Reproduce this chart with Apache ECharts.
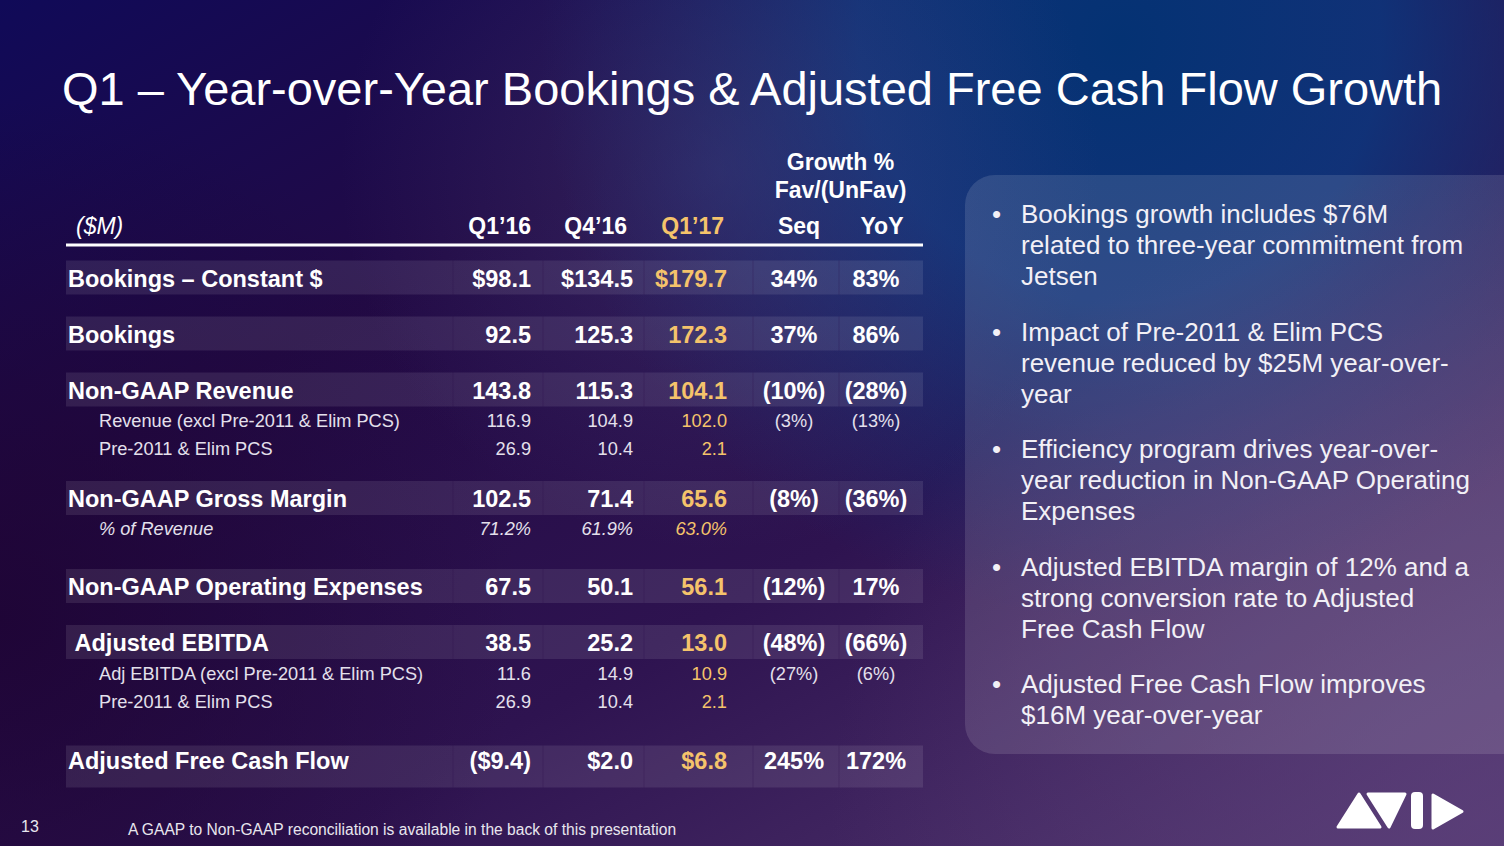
<!DOCTYPE html>
<html>
<head>
<meta charset="utf-8">
<script src="https://cdn.jsdelivr.net/npm/echarts@6/dist/echarts.min.js"></script>
<style>
  html, body { margin: 0; padding: 0; background: #1f0a45; }
  #chart { width: 1504px; height: 846px; }
</style>
</head>
<body>
<div id="chart"></div>
<script>
// ---------------- DATA ----------------
const titleText = 'Q1 – Year-over-Year Bookings & Adjusted Free Cash Flow Growth';
const unitLabel = '($M)';
const columns = ['Q1’16', 'Q4’16', 'Q1’17', 'Seq', 'YoY'];
const growthHeader = ['Growth %', 'Fav/(UnFav)'];
const rowLabels = [
  'Bookings – Constant $',
  'Bookings',
  'Non-GAAP Revenue',
  'Revenue (excl Pre-2011 & Elim PCS)',
  'Pre-2011 & Elim PCS',
  'Non-GAAP Gross Margin',
  '% of Revenue',
  'Non-GAAP Operating Expenses',
  '\u00a0Adjusted EBITDA',
  'Adj EBITDA (excl Pre-2011 & Elim PCS)',
  'Pre-2011 & Elim PCS',
  'Adjusted Free Cash Flow'
];
const rowKinds = ['main', 'main', 'main', 'sub', 'sub', 'main', 'pct', 'main', 'main', 'sub', 'sub', 'total'];
const rowUnits = ['$', '', '', '', '', '', '%', '', '', '', '', '$'];
const q1_16 = [98.1, 92.5, 143.8, 116.9, 26.9, 102.5, 71.2, 67.5, 38.5, 11.6, 26.9, -9.4];
const q4_16 = [134.5, 125.3, 115.3, 104.9, 10.4, 71.4, 61.9, 50.1, 25.2, 14.9, 10.4, 2.0];
const q1_17 = [179.7, 172.3, 104.1, 102.0, 2.1, 65.6, 63.0, 56.1, 13.0, 10.9, 2.1, 6.8];
const growthSeq = [34, 37, -10, -3, null, -8, null, -12, -48, -27, null, 245];
const growthYoY = [83, 86, -28, -13, null, -36, null, 17, -66, -6, null, 172];
const bullets = [
  'Bookings growth includes $76M\nrelated to three-year commitment from\nJetsen',
  'Impact of Pre-2011 & Elim PCS\nrevenue reduced by $25M year-over-\nyear',
  'Efficiency program drives year-over-\nyear reduction in Non-GAAP Operating\nExpenses',
  'Adjusted EBITDA margin of 12% and a\nstrong conversion rate to Adjusted\nFree Cash Flow',
  'Adjusted Free Cash Flow improves\n$16M year-over-year'
];
const pageNumber = '13';
const footnote = 'A GAAP to Non-GAAP reconciliation is available in the back of this presentation';

// ---------------- LAYOUT / STYLE ----------------
const W = 1504, H = 846;
const FONT = '"Liberation Sans", Arial, Helvetica, sans-serif';
const WHITE = '#ffffff';
const SUBTXT = '#e4e0ec';
const GOLD = '#f5c36b';
const L = {
  labelX: 68, subX: 99,
  colRight: [531, 633, 727],
  growthCenter: [794, 876],
  headRight: [531, 627, 724],
  headGrowthCenter: [799, 882],
  headerY: 226,
  growthHeadY: [162, 190],
  ruleY: 245,
  tableLeft: 66, tableRight: 923,
  cellEdges: [66, 453, 543, 644, 753, 839, 923],
  band: { main: { h: 34, off: -1 }, total: { h: 42, off: 6 } }
};
const GAP = {
  'header>main': 52.5, 'main>main': 56, 'main>sub': 30.5, 'main>pct': 30,
  'sub>sub': 28, 'sub>main': 50, 'pct>main': 58, 'sub>total': 59
};
const rowY = (function () {
  let y = L.headerY, prev = 'header';
  return rowKinds.map(function (k) { y += GAP[prev + '>' + k]; prev = k; return y; });
})();

function fmtAmount(v, unit) {
  let s = Math.abs(v).toFixed(1);
  if (unit === '$') s = '$' + s;
  if (unit === '%') s = s + '%';
  return v < 0 ? '(' + s + ')' : s;
}
function fmtPct(v) {
  if (v === null || v === undefined) return '';
  return v < 0 ? '(' + (-v) + '%)' : v + '%';
}
function txt(x, y, text, opt) {
  return {
    type: 'text', x: x, y: y, silent: true,
    style: {
      text: text,
      fill: opt.fill || WHITE,
      font: opt.font,
      align: opt.align || 'left', textAlign: opt.align || 'left',
      verticalAlign: 'middle', textVerticalAlign: 'middle'
    }
  };
}

const chart = echarts.init(document.getElementById('chart'), null, { renderer: 'svg', width: W, height: H });

const rowIndexData = rowLabels.map(function (_, i) { return [i]; });

const bandSeries = {
  type: 'custom', coordinateSystem: 'cartesian2d', z: 1, silent: true,
  data: rowIndexData,
  encode: { x: 0, y: 0 },
  renderItem: function (params, api) {
    const i = api.value(0);
    const b = L.band[rowKinds[i]];
    if (!b) return null;
    const top = rowY[i] + b.off - b.h / 2, bot = rowY[i] + b.off + b.h / 2;
    const children = [];
    const p0 = api.coord([L.tableLeft, top]);
    const p1 = api.coord([L.tableRight, bot]);
    children.push({ type: 'rect', shape: { x: p0[0], y: p0[1], width: p1[0] - p0[0], height: p1[1] - p0[1] },
      style: { fill: 'rgba(255,255,255,0.095)' } });
    for (let c = 1; c < L.cellEdges.length - 1; c++) {
      const a = api.coord([L.cellEdges[c], top]);
      const z = api.coord([L.cellEdges[c], bot]);
      children.push({ type: 'line', shape: { x1: a[0], y1: a[1], x2: z[0], y2: z[1] },
        style: { stroke: 'rgba(40,10,70,0.25)', lineWidth: 1 } });
    }
    return { type: 'group', children: children };
  }
};

const cellSeries = {
  type: 'custom', coordinateSystem: 'cartesian2d', z: 3, silent: true,
  data: rowIndexData,
  encode: { x: 0, y: 0 },
  renderItem: function (params, api) {
    const i = api.value(0);
    const kind = rowKinds[i];
    const isMain = kind === 'main' || kind === 'total';
    const size = isMain ? 23.5 : 18.2;
    const style = kind === 'pct' ? 'italic ' : '';
    const weight = isMain ? 'bold ' : '';
    const font = style + weight + size + 'px ' + FONT;
    const baseFill = isMain ? WHITE : SUBTXT;
    const y = rowY[i];
    const children = [];
    const lp = api.coord([isMain ? L.labelX : L.subX, y]);
    children.push(txt(lp[0], lp[1], rowLabels[i], { font: font, fill: baseFill }));
    const vals = [q1_16[i], q4_16[i], q1_17[i]];
    vals.forEach(function (v, c) {
      const p = api.coord([L.colRight[c], y]);
      children.push(txt(p[0], p[1], fmtAmount(v, rowUnits[i]), { font: font, fill: c === 2 ? GOLD : baseFill, align: 'right' }));
    });
    [growthSeq[i], growthYoY[i]].forEach(function (v, c) {
      const s = fmtPct(v);
      if (!s) return;
      const p = api.coord([L.growthCenter[c], y]);
      children.push(txt(p[0], p[1], s, { font: (weight + size + 'px ' + FONT), fill: baseFill, align: 'center' }));
    });
    return { type: 'group', children: children };
  }
};

const headerSeries = {
  type: 'custom', coordinateSystem: 'cartesian2d', z: 3, silent: true,
  data: [[0]],
  encode: { x: 0, y: 0 },
  renderItem: function (params, api) {
    const children = [];
    const bold = 'bold 23px ' + FONT;
    let p = api.coord([76, L.headerY]);
    children.push(txt(p[0], p[1], unitLabel, { font: 'italic 23px ' + FONT }));
    for (let c = 0; c < 3; c++) {
      p = api.coord([L.headRight[c], L.headerY]);
      children.push(txt(p[0], p[1], columns[c], { font: bold, fill: c === 2 ? GOLD : WHITE, align: 'right' }));
    }
    for (let c = 0; c < 2; c++) {
      p = api.coord([L.headGrowthCenter[c], L.headerY]);
      children.push(txt(p[0], p[1], columns[3 + c], { font: bold, align: 'center' }));
    }
    const gc = (L.headGrowthCenter[0] + L.headGrowthCenter[1]) / 2;
    growthHeader.forEach(function (t, k) {
      const q = api.coord([gc, L.growthHeadY[k]]);
      children.push(txt(q[0], q[1], t, { font: bold, align: 'center' }));
    });
    const a = api.coord([L.tableLeft, L.ruleY]);
    const b = api.coord([L.tableRight, L.ruleY]);
    children.push({ type: 'line', shape: { x1: a[0], y1: a[1], x2: b[0], y2: b[1] }, style: { stroke: '#ffffff', lineWidth: 3 } });
    return { type: 'group', children: children };
  }
};

// --------- decorative graphics (background, panel, logo, text) ---------
const g = [];
g.push({ type: 'rect', z: -100, silent: true, shape: { x: 0, y: 0, width: W, height: H },
  style: { fill: { type: 'linear', x: 0, y: 0, x2: 1, y2: 1, colorStops: [
    { offset: 0, color: '#100a58' }, { offset: 0.3, color: '#220a45' }, { offset: 0.6, color: '#2e1350' }, { offset: 1, color: '#553a72' } ] } } });
g.push({ type: 'rect', z: -99, silent: true, shape: { x: 0, y: 0, width: W, height: H },
  style: { fill: { type: 'radial', x: 1120, y: 40, r: 580, global: true, colorStops: [
    { offset: 0, color: 'rgba(4,50,115,1)' }, { offset: 0.45, color: 'rgba(10,58,130,0.8)' }, { offset: 1, color: 'rgba(20,50,120,0)' } ] } } });
g.push({ type: 'rect', z: -98, silent: true, shape: { x: 0, y: 0, width: W, height: H },
  style: { fill: { type: 'radial', x: 720, y: 170, r: 380, global: true, colorStops: [
    { offset: 0, color: 'rgba(80,80,140,0.35)' }, { offset: 1, color: 'rgba(80,80,140,0)' } ] } } });
g.push({ type: 'rect', z: -97, silent: true, shape: { x: 0, y: 0, width: W, height: H },
  style: { fill: { type: 'radial', x: 1480, y: 820, r: 650, global: true, colorStops: [
    { offset: 0, color: 'rgba(92,64,122,0.7)' }, { offset: 1, color: 'rgba(92,64,122,0)' } ] } } });
g.push({ type: 'rect', z: -96, silent: true, shape: { x: 0, y: 0, width: W, height: H },
  style: { fill: { type: 'radial', x: 0, y: 620, r: 520, global: true, colorStops: [
    { offset: 0, color: 'rgba(30,4,52,0.85)' }, { offset: 1, color: 'rgba(30,4,52,0)' } ] } } });
// side panel
g.push({ type: 'rect', z: -50, silent: true, shape: { x: 965, y: 175, width: 620, height: 579, r: 30 },
  style: { fill: 'rgba(255,255,255,0.12)' } });
// title
g.push({ type: 'text', z: 10, silent: true, x: 62, y: 88,
  style: { text: titleText, fill: WHITE, font: '47px ' + FONT, align: 'left', textAlign: 'left', verticalAlign: 'middle', textVerticalAlign: 'middle' } });
// bullets
(function () {
  let y = 214;
  bullets.forEach(function (b) {
    g.push({ type: 'text', z: 10, silent: true, x: 992, y: y,
      style: { text: '•', fill: '#f2f0f6', font: '26px ' + FONT, align: 'left', textAlign: 'left', verticalAlign: 'middle', textVerticalAlign: 'middle' } });
    g.push({ type: 'text', z: 10, silent: true, x: 1021, y: y - 15.5,
      style: { text: b, fill: '#f2f0f6', font: '26px ' + FONT, lineHeight: 31, align: 'left', textAlign: 'left', verticalAlign: 'top', textVerticalAlign: 'top' } });
    y += b.split('\n').length * 31 + 24.5;
  });
})();
// footer
g.push({ type: 'text', z: 10, silent: true, x: 21, y: 826,
  style: { text: pageNumber, fill: '#e8e6ee', font: '16px ' + FONT, align: 'left', textAlign: 'left', verticalAlign: 'middle', textVerticalAlign: 'middle' } });
g.push({ type: 'text', z: 10, silent: true, x: 128, y: 829,
  style: { text: footnote, fill: '#e8e6ee', font: '15.6px ' + FONT, align: 'left', textAlign: 'left', verticalAlign: 'middle', textVerticalAlign: 'middle' } });
// logo
const logoStyle = { fill: '#ffffff', stroke: '#ffffff', lineWidth: 3, lineJoin: 'round' };
g.push({ type: 'polygon', z: 10, silent: true, shape: { points: [[1338, 827], [1359, 794], [1380, 827]] }, style: logoStyle });
g.push({ type: 'polygon', z: 10, silent: true, shape: { points: [[1368, 794], [1405, 794], [1389, 827]] }, style: logoStyle });
g.push({ type: 'rect', z: 10, silent: true, shape: { x: 1411, y: 792, width: 12, height: 37, r: 4 }, style: { fill: '#ffffff' } });
g.push({ type: 'polygon', z: 10, silent: true, shape: { points: [[1433, 795], [1433, 828], [1462, 811.5]] }, style: logoStyle });

const option = {
  backgroundColor: '#1f0a45',
  animation: false,
  grid: { left: 0, right: 0, top: 0, bottom: 0 },
  xAxis: { type: 'value', min: 0, max: W, show: false },
  yAxis: { type: 'value', min: 0, max: H, inverse: true, show: false },
  graphic: { elements: g },
  series: [bandSeries, headerSeries, cellSeries]
};
chart.setOption(option);
</script>
</body>
</html>
